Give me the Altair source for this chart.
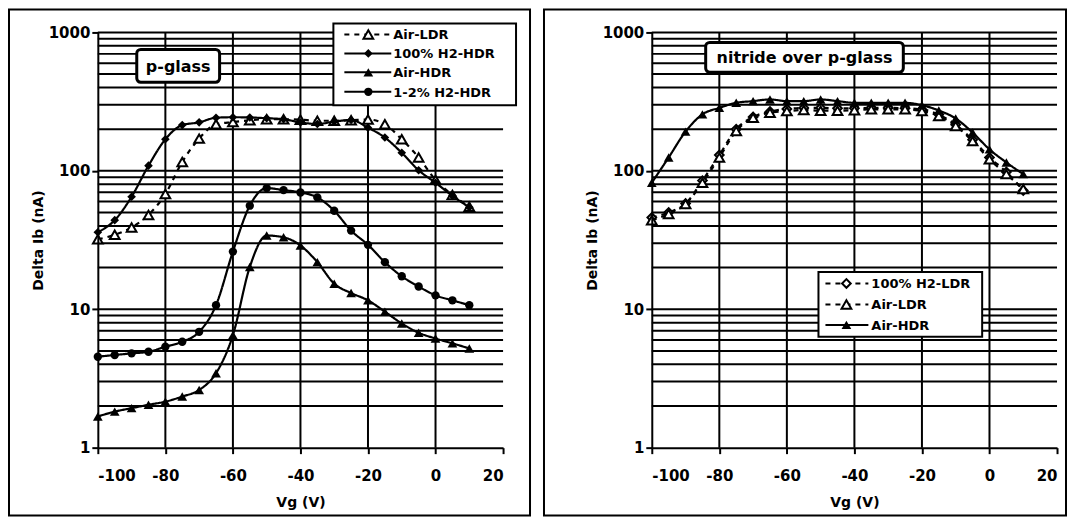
import altair as alt
import pandas as pd

# ---------------- data ----------------
vg = [-100, -95, -90, -85, -80, -75, -70, -65, -60, -55, -50, -45,
      -40, -35, -30, -25, -20, -15, -10, -5, 0, 5, 10]

# left panel: p-glass
pg_air_ldr = [32, 34.5, 39, 48, 68, 116, 171, 217, 225, 232, 236, 236,
              234, 230, 230, 232, 235, 217, 169, 125, 86, 67, 55]
pg_h2_hdr = [36, 44, 65, 109, 169, 214, 224, 242, 244, 243, 240, 236,
             224, 218, 227, 233, 205, 174, 135, 101, 82, 66, 54.5]
pg_air_hdr = [1.68, 1.82, 1.93, 2.04, 2.15, 2.34, 2.61, 3.45, 6.5, 20.2, 34.1, 33.1,
              28.9, 21.9, 15.3, 13.1, 11.6, 9.6, 7.9, 6.76, 6.15, 5.67, 5.21]
pg_h212_hdr = [4.54, 4.67, 4.8, 4.93, 5.36, 5.82, 6.87, 10.7, 26.1, 56, 75, 72.6,
               69.8, 64.3, 51.5, 37, 29.2, 21.9, 17.3, 14.6, 12.6, 11.6, 10.7]

# right panel: nitride over p-glass
ni_h2_ldr = [46, 50, 58, 85, 130, 200, 245, 268, 280, 285, 285, 283,
             283, 285, 285, 283, 278, 255, 215, 168, 125, 98, 72]
ni_air_ldr = [44, 48.8, 57.6, 82, 125, 194, 242, 263, 270, 275, 272, 272,
              274, 278, 278, 278, 270, 249, 211, 164, 121, 94.7, 74]
ni_air_hdr = [82, 125, 192, 256, 285, 310, 319, 328, 319, 319, 328, 319,
              310, 310, 310, 310, 298, 273, 239, 189, 143, 115, 94.7]

left_names = ["Air-LDR", "100% H2-HDR", "Air-HDR", "1-2% H2-HDR"]
right_names = ["100% H2-LDR", "Air-LDR", "Air-HDR"]

x_ticks = [-100, -80, -60, -40, -20, 0, 20]
x_grid = [-80, -60, -40, -20, 0]
y_ticks = [1, 10, 100, 1000]
y_grid = [2, 3, 4, 5, 6, 7, 8, 9, 10, 20, 30, 40, 50, 60, 70, 80, 90,
          100, 200, 300, 400, 500, 600, 700, 800, 900, 1000]

# ---------------- style ----------------
FONT = "DejaVu Sans"
W, H = 406, 416
SIZES = {"triangle-up": 95, "diamond": 75, "circle": 70}
one = pd.DataFrame({"k": [0]})

xscale = alt.Scale(domain=[-100, 20], nice=False, zero=False)
yscale = alt.Scale(type="log", domain=[1, 1000], nice=False)
xaxis = alt.Axis(values=x_ticks, grid=False, title="Vg (V)", labelPadding=15,
                 titlePadding=12, zindex=1,
                 labelExpr="datum.value < 0 ? '-' + abs(datum.value) : '' + datum.value")
yaxis = alt.Axis(values=y_ticks, grid=False, title="Delta Ib (nA)", labelPadding=2,
                 titlePadding=3, zindex=1, labelExpr="'' + datum.value")

STYLE = {
    "dash": [5, 5],
    "solid": [1, 0],
}


def point_mark(chart, shape, filled):
    size = SIZES[shape]
    if filled:
        return chart.mark_point(shape=shape, filled=True, color="black", size=size, opacity=1)
    return chart.mark_point(shape=shape, filled=True, fill="white", stroke="black",
                            strokeWidth=2, size=size, opacity=1)


def series_layers(values, shape, filled, dashed):
    df = pd.DataFrame({"vg": vg, "val": values})
    base = alt.Chart(df).encode(
        x=alt.X("vg:Q", scale=xscale, axis=xaxis),
        y=alt.Y("val:Q", scale=yscale, axis=yaxis),
    )
    line = base.mark_line(color="black", strokeWidth=2.2, interpolate="monotone",
                          strokeDash=STYLE["dash"] if dashed else STYLE["solid"])
    return [line, point_mark(base, shape, filled)]


def legend_layers(names, specs, box, rows, line_x, mark_x, text_x):
    out = [alt.Chart(one).mark_rect(fill="white", stroke="black", strokeWidth=2).encode(
        x=alt.value(box[0]), x2=alt.value(box[2]), y=alt.value(box[1]), y2=alt.value(box[3]))]
    for name, (shape, filled, dashed), ry in zip(names, specs, rows):
        out.append(alt.Chart(one).mark_rule(
            color="black", strokeWidth=2,
            strokeDash=STYLE["dash"] if dashed else STYLE["solid"]).encode(
            x=alt.value(line_x[0]), x2=alt.value(line_x[1]), y=alt.value(ry)))
        out.append(point_mark(alt.Chart(one), shape, filled).encode(
            x=alt.value(mark_x), y=alt.value(ry)))
        out.append(alt.Chart(one).mark_text(
            align="left", baseline="middle", font=FONT, fontWeight="bold",
            fontSize=13, color="black", text=name).encode(
            x=alt.value(text_x), y=alt.value(ry + 1)))
    return out


def note_layers(text, box):
    cx = (box[0] + box[2]) / 2
    cy = (box[1] + box[3]) / 2
    return [
        alt.Chart(one).mark_rect(fill="white", stroke="black", strokeWidth=3,
                                 cornerRadius=4).encode(
            x=alt.value(box[0]), x2=alt.value(box[2]), y=alt.value(box[1]), y2=alt.value(box[3])),
        alt.Chart(one).mark_text(align="center", baseline="middle", font=FONT,
                                 fontWeight="bold", fontSize=16, color="black",
                                 text=text).encode(x=alt.value(cx), y=alt.value(cy + 1)),
    ]


def grid_layers():
    hg = alt.Chart(pd.DataFrame({"gy": y_grid})).mark_rule(color="black", strokeWidth=2).encode(
        y=alt.Y("gy:Q", scale=yscale, axis=yaxis))
    vgr = alt.Chart(pd.DataFrame({"gx": x_grid})).mark_rule(color="black", strokeWidth=2).encode(
        x=alt.X("gx:Q", scale=xscale, axis=xaxis))
    return [hg, vgr]


def frame(x1, x2):
    return alt.Chart(one).mark_rect(fill="white", stroke="black", strokeWidth=2).encode(
        x=alt.value(x1), x2=alt.value(x2), y=alt.value(-23), y2=alt.value(484))


# ---------------- left panel ----------------
left_specs = [("triangle-up", False, True), ("diamond", True, False),
              ("triangle-up", True, False), ("circle", True, False)]
left_layers = [frame(-89, 433)] + grid_layers()
for vals, spec in zip([pg_air_ldr, pg_h2_hdr, pg_air_hdr, pg_h212_hdr], left_specs):
    left_layers += series_layers(vals, *spec)
left_layers += note_layers("p-glass", (39, 17, 122, 50))
left_layers += legend_layers(left_names, left_specs, (236, -9, 419, 73),
                             [2, 21, 40, 59.5], (247, 294), 271, 296)
left = alt.layer(*left_layers).properties(width=W, height=H)

# ---------------- right panel ----------------
right_specs = [("diamond", False, True), ("triangle-up", False, True),
               ("triangle-up", True, False)]
right_layers = [frame(-108, 415)] + grid_layers()
for vals, spec in zip([ni_h2_ldr, ni_air_ldr, ni_air_hdr], right_specs):
    right_layers += series_layers(vals, *spec)
right_layers += note_layers("nitride over p-glass", (54, 10, 252, 40))
right_layers += legend_layers(right_names, right_specs, (167, 240, 331, 305),
                              [251.5, 272.5, 293], (174, 217), 195, 220)
right = alt.layer(*right_layers).properties(width=W, height=H)

chart = alt.hconcat(left, right, spacing=12).properties(padding=0).configure_view(
    stroke=None
).configure_axis(
    domainColor="black", domainWidth=2, tickColor="black", tickWidth=2, tickSize=6,
    labelFont=FONT, labelFontWeight="bold", labelFontSize=15, labelColor="black",
    titleFont=FONT, titleFontWeight="bold", titleFontSize=14, titleColor="black",
)

chart.save("out.html", embed_options={"renderer": "svg", "actions": False})
